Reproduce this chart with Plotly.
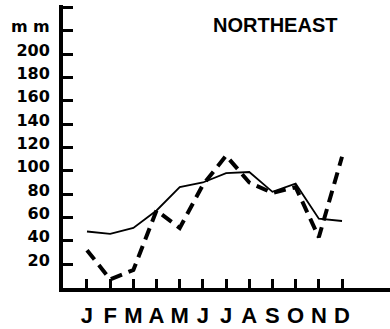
import plotly.graph_objects as go

months = ["J", "F", "M", "A", "M", "J", "J", "A", "S", "O", "N", "D"]
solid_vals = [48, 46, 51, 66, 86, 90, 98, 99, 82, 89, 59, 57]
dashed_vals = [32, 7, 15, 66, 51, 88, 113, 90, 81, 86, 43, 112]
y_tick_vals = [20, 40, 60, 80, 100, 120, 140, 160, 180, 200, 220, 240]
y_tick_text = ["20", "40", "60", "80", "100", "120", "140", "160", "180", "200", "m m", ""]
title_text = "NORTHEAST"

x_idx = list(range(len(months)))

fig = go.Figure()
fig.add_trace(go.Scatter(x=x_idx, y=solid_vals, mode="lines",
                         line=dict(color="#000", width=1.8), hoverinfo="skip"))
fig.add_trace(go.Scatter(x=x_idx, y=dashed_vals, mode="lines",
                         line=dict(color="#000", width=4, dash="12px,7px"), hoverinfo="skip"))

fig.update_layout(
    width=390, height=329,
    margin=dict(l=63, r=0, t=5, b=41, pad=0, autoexpand=False),
    paper_bgcolor="white", plot_bgcolor="white",
    showlegend=False,
    xaxis=dict(range=[-1.035, 13.07], tickvals=x_idx, ticktext=months,
               ticks="inside", ticklen=9, tickwidth=3, tickcolor="#000",
               showline=True, linewidth=4, linecolor="#000",
               showgrid=False, zeroline=False, fixedrange=True, automargin=False,
               ticklabelstandoff=5,
               tickfont=dict(family="Liberation Sans", size=22, color="#000", weight="bold")),
    yaxis=dict(range=[-0.43, 242.1], tickvals=y_tick_vals, ticktext=y_tick_text,
               ticks="inside", ticklen=10, tickwidth=3, tickcolor="#000",
               showline=True, linewidth=4, linecolor="#000",
               showgrid=False, zeroline=False, fixedrange=True, automargin=False,
               ticklabelshift=-4, ticklabelstandoff=6,
               tickfont=dict(family="DejaVu Sans", size=16, color="#000", weight="bold")),
    annotations=[dict(text=title_text, xref="paper", yref="paper",
                      x=0.648, y=0.931, xanchor="center", yanchor="middle",
                      showarrow=False,
                      font=dict(family="Liberation Sans", size=20, color="#000", weight="bold"))],
)

fig.write_html("out.html", config={"displayModeBar": False, "staticPlot": True},
               post_script="document.body.style.margin='0';document.body.style.overflow='hidden';")
